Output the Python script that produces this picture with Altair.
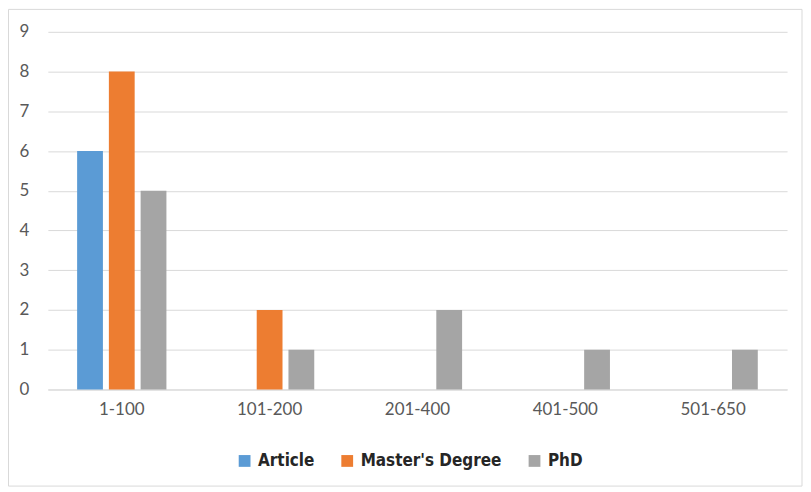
import altair as alt
import pandas as pd

categories = ["1-100", "101-200", "201-400", "401-500", "501-650"]
series = ["Article", "Master's Degree", "PhD"]
article = [6, 0, 0, 0, 0]
masters = [8, 2, 0, 0, 0]
phd = [5, 1, 2, 1, 1]
colors = ["#5B9BD5", "#ED7D31", "#A5A5A5"]

rows = []
for name, vals in zip(series, [article, masters, phd]):
    for c, v in zip(categories, vals):
        rows.append({"cat": c, "series": name, "value": v})
df = pd.DataFrame(rows)

bars = alt.Chart(df).mark_bar().encode(
    x=alt.X("cat:N", sort=categories, title=None,
            scale=alt.Scale(paddingInner=0.396, paddingOuter=0.198),
            axis=alt.Axis(labelAngle=0, ticks=False, domain=True, domainColor="#D9D9D9",
                          labelFont="Lato", labelFontSize=17, labelColor="#595959",
                          labelPadding=12, grid=False)),
    xOffset=alt.XOffset("series:N", sort=series,
                        scale=alt.Scale(paddingInner=0.1875, paddingOuter=0)),
    y=alt.Y("value:Q", title=None,
            scale=alt.Scale(domain=[0, 9]),
            axis=alt.Axis(values=list(range(10)), ticks=False, domain=False,
                          gridColor="#D9D9D9", labelFont="Lato", labelFontSize=17,
                          labelColor="#595959", labelPadding=19)),
    color=alt.Color("series:N", sort=series,
                    scale=alt.Scale(domain=series, range=colors),
                    legend=alt.Legend(title=None, orient="none", direction="horizontal",
                                      legendX=189, legendY=422,
                                      symbolType="square", symbolSize=140,
                                      symbolStrokeWidth=0, symbolOpacity=1,
                                      labelFont="'DejaVu Sans Condensed', 'Roboto', sans-serif",
                                      labelFontWeight="bold",
                                      labelFontSize=17, labelColor="#262626",
                                      columnPadding=24, labelOffset=5)),
)

border = alt.Chart(pd.DataFrame({"a": [0]})).mark_rect(
    fill=None, stroke="#D9D9D9", strokeWidth=1, clip=False
).encode(
    x=alt.value(-39.5), x2=alt.value(757), y=alt.value(-22.5), y2=alt.value(456)
)

chart = alt.layer(border, bars).properties(
    width=742, height=359,
    autosize=alt.AutoSizeParams(type="none"),
    padding={"left": 40, "top": 23, "right": 16, "bottom": 100},
).configure_view(stroke=None)

chart.save("out.html", embed_options={"renderer": "svg", "actions": False})
